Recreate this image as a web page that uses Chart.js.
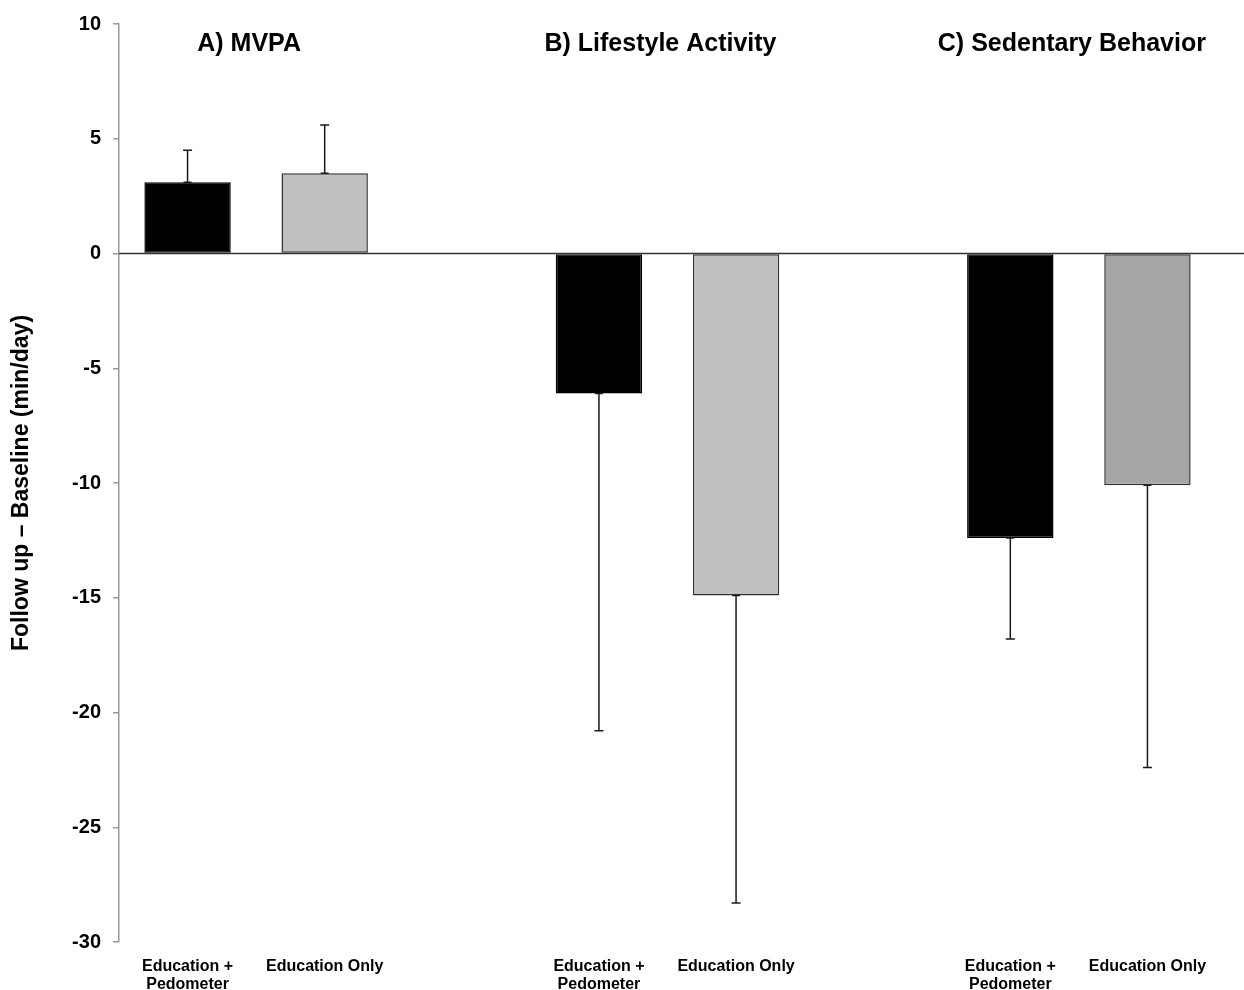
<!DOCTYPE html>
<html>
<head>
<meta charset="utf-8">
<script src="https://cdn.jsdelivr.net/npm/chart.js@4/dist/chart.umd.min.js"></script>
<style>
  body { margin: 0; background: #fff; }
</style>
</head>
<body>
<canvas id="myChart" width="1244" height="990"></canvas>
<script>
const panels = ["A) MVPA", "B) Lifestyle Activity", "C) Sedentary Behavior"];
const arms = [["Education +", "Pedometer"], "Education Only"];
const pedometerMeans = [3.1, -6.1, -12.4];
const pedometerErrors = [1.4, 14.7, 4.4];
const educationMeans = [3.5, -14.9, -10.1];
const educationErrors = [2.1, 13.4, 12.3];
const educationColors = ["#c0c0c0", "#c0c0c0", "#a6a6a6"];
const yMin = -30, yMax = 10, yStep = 5;

const FONT = "'Liberation Sans', Arial, sans-serif";

// two bars per panel, an empty slot between panels
var labels = [], values = [], errors = [], colors = [], borders = [], titleIndex = [];
for (var i = 0; i < panels.length; i++) {
  if (i > 0) {
    labels.push(""); values.push(null); errors.push(null); colors.push("#fff"); borders.push("#fff");
  }
  titleIndex.push(labels.length);
  labels.push(arms[0]); values.push(pedometerMeans[i]); errors.push(pedometerErrors[i]);
  colors.push("#000"); borders.push("#000");
  labels.push(arms[1]); values.push(educationMeans[i]); errors.push(educationErrors[i]);
  colors.push(educationColors[i]); borders.push("#333");
}

// zero line across the plot, out to the right edge
const zeroLine = {
  id: "zeroLine",
  afterDatasetsDraw(chart) {
    const ctx = chart.ctx, y = chart.scales.y.getPixelForValue(0);
    ctx.save();
    ctx.strokeStyle = "#333";
    ctx.lineWidth = 1.5;
    ctx.beginPath();
    ctx.moveTo(chart.chartArea.left, y);
    ctx.lineTo(chart.width, y);
    ctx.stroke();
    ctx.restore();
  }
};

// one-sided error bars, pointing away from zero
const errorBars = {
  id: "errorBars",
  afterDatasetsDraw(chart) {
    const ctx = chart.ctx, ys = chart.scales.y;
    const meta = chart.getDatasetMeta(0);
    ctx.save();
    ctx.strokeStyle = "#1a1a1a";
    ctx.lineWidth = 1.5;
    meta.data.forEach((bar, i) => {
      if (values[i] === null) return;
      const v = values[i];
      const end = v >= 0 ? v + errors[i] : v - errors[i];
      const y0 = ys.getPixelForValue(v), y1 = ys.getPixelForValue(end);
      ctx.beginPath();
      ctx.moveTo(bar.x, y0);
      ctx.lineTo(bar.x, y1);
      ctx.moveTo(bar.x - 4.5, y1);
      ctx.lineTo(bar.x + 4.5, y1);
      ctx.moveTo(bar.x - 4, y0);
      ctx.lineTo(bar.x + 4, y0);
      ctx.stroke();
    });
    ctx.restore();
  }
};

// panel headings
const panelTitles = {
  id: "panelTitles",
  afterDraw(chart) {
    const ctx = chart.ctx, meta = chart.getDatasetMeta(0);
    const top = chart.scales.y.getPixelForValue(yMax);
    ctx.save();
    ctx.fillStyle = "#000";
    ctx.font = "bold 25px " + FONT;
    ctx.textAlign = "center";
    ctx.textBaseline = "middle";
    panels.forEach((t, i) => {
      const k = titleIndex[i];
      const x = (meta.data[k].x + meta.data[k + 1].x) / 2 - 7;
      ctx.fillText(t, x, top + 20);
    });
    ctx.restore();
  }
};

const data = {
  labels: labels,
  datasets: [
    {
      data: values,
      backgroundColor: colors,
      borderColor: borders,
      borderWidth: 1.5,
      borderSkipped: false,
      barPercentage: 0.63,
      categoryPercentage: 1,
    },
  ],
};

const config = {
  type: "bar",
  data: data,
  options: {
    responsive: false,
    animation: false,
    layout: { padding: { top: 22, right: 28, bottom: 0, left: 0 } },
    plugins: {
      legend: { display: false },
      tooltip: { enabled: false },
    },
    scales: {
      x: {
        grid: { display: false, drawTicks: false },
        border: { display: false },
        ticks: {
          padding: 16,
          color: "#000",
          maxRotation: 0,
          autoSkip: false,
          font: { family: FONT, size: 16, weight: "bold", lineHeight: 1.12 },
        },
        afterFit: (s) => { s.height = 48; },
      },
      y: {
        min: yMin,
        max: yMax,
        grid: { drawOnChartArea: false, drawTicks: true, tickLength: 6, color: "#999", lineWidth: 1.5 },
        border: { color: "#999", width: 1.5 },
        ticks: {
          stepSize: yStep,
          padding: 12,
          color: "#000",
          font: { family: FONT, size: 20, weight: "bold" },
        },
        title: {
          display: true,
          text: "Follow up \u2013 Baseline (min/day)",
          color: "#000",
          padding: { top: 8, bottom: 0 },
          font: { family: FONT, size: 23, weight: "bold" },
        },
        afterFit: (s) => { s.width = 119; },
      },
    },
  },
  plugins: [zeroLine, errorBars, panelTitles],
};

const myChart = new Chart(document.getElementById("myChart"), config);
</script>
</body>
</html>
